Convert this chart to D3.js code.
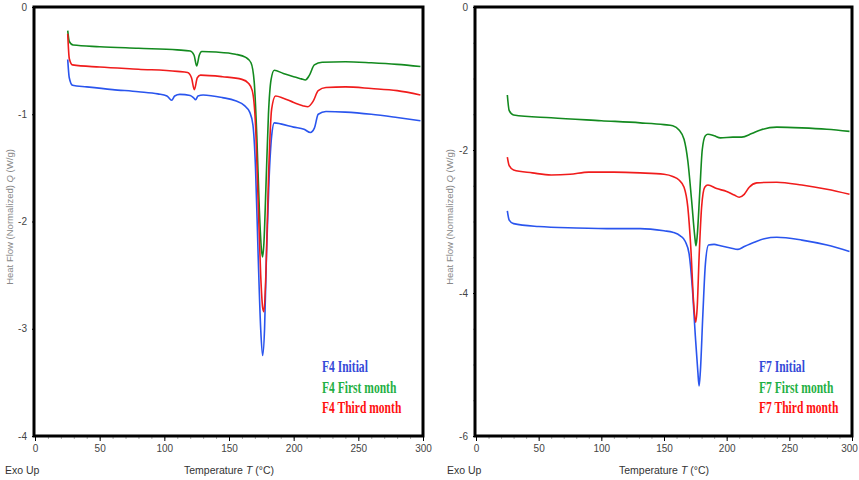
<!DOCTYPE html>
<html>
<head>
<meta charset="utf-8">
<script src="https://cdn.jsdelivr.net/npm/d3@7"></script>
<style>
  body { margin: 0; background: #fff; }
  svg { display: block; }
  .tick text { font-family: "Liberation Sans Narrow", "Liberation Sans", Arial, sans-serif; font-size: 10px; fill: #444; }
  .minor line { stroke: #aaa; }
</style>
</head>
<body>
<svg id="chart" width="859" height="480"></svg>
<script>
// temperature ticks shared by both panels
const tempTicks = [0, 50, 100, 150, 200, 250, 300];

// F4 panel, [temperature °C, heat flow W/g]
const f4Initial = [[25.3,-0.49],[26.5,-0.66],[29,-0.73],[40,-0.745],[60,-0.77],[80,-0.79],[95,-0.81],[102,-0.83],[105.7,-0.87],[108,-0.83],[112,-0.815],[120,-0.825],[122.5,-0.845],[124.2,-0.865],[126,-0.83],[130,-0.82],[145,-0.845],[155,-0.875],[162,-0.92],[166,-0.98],[168.5,-1.1],[170.5,-1.5],[172.5,-2.3],[174.5,-3.0],[176,-3.25],[177.5,-3.0],[179,-2.3],[181,-1.6],[183,-1.2],[185,-1.08],[190,-1.09],[200,-1.12],[208,-1.14],[213,-1.17],[216,-1.13],[219,-1.0],[225,-0.975],[240,-0.98],[260,-1.0],[280,-1.03],[298,-1.06]];
const f4First = [[25.3,-0.22],[26.5,-0.32],[29.5,-0.355],[50,-0.37],[80,-0.385],[110,-0.4],[120,-0.41],[123,-0.45],[125,-0.55],[127,-0.45],[129,-0.415],[140,-0.42],[155,-0.44],[163,-0.47],[167,-0.52],[169.5,-0.7],[171.5,-1.2],[173.5,-1.9],[175,-2.25],[176,-2.33],[177,-2.2],[178.5,-1.7],[180.5,-1.0],[182.5,-0.68],[185,-0.59],[192,-0.62],[200,-0.65],[206,-0.67],[209,-0.68],[212,-0.64],[216,-0.54],[222,-0.515],[240,-0.51],[260,-0.52],[280,-0.535],[298,-0.555]];
const f4Third = [[25.3,-0.25],[26.5,-0.48],[29,-0.54],[50,-0.56],[80,-0.58],[110,-0.6],[118,-0.61],[121,-0.66],[123.2,-0.77],[125.5,-0.66],[128,-0.635],[145,-0.65],[160,-0.675],[165,-0.71],[168,-0.78],[170.5,-1.1],[172.5,-1.8],[174.5,-2.5],[176,-2.8],[177,-2.84],[178.5,-2.5],[180.5,-1.6],[183,-0.95],[186,-0.83],[192,-0.85],[200,-0.89],[207,-0.92],[211,-0.93],[215,-0.88],[219,-0.78],[225,-0.75],[240,-0.745],[260,-0.76],[280,-0.78],[298,-0.82]];
const f4Ticks = [0, -1, -2, -3, -4];

// F7 panel
const f7Initial = [[25,-2.85],[26.5,-2.98],[30,-3.03],[50,-3.07],[80,-3.09],[110,-3.1],[131,-3.1],[150,-3.13],[157,-3.15],[163,-3.2],[167,-3.28],[170,-3.45],[172.5,-3.9],[175,-4.6],[177,-5.1],[178,-5.3],[179,-5.1],[181,-4.3],[183,-3.6],[185.5,-3.33],[190,-3.32],[195,-3.34],[203,-3.37],[209,-3.39],[214,-3.35],[222,-3.29],[230,-3.24],[240,-3.22],[260,-3.26],[280,-3.33],[298,-3.42]];
const f7First = [[25,-1.23],[26.5,-1.45],[30,-1.51],[60,-1.55],[100,-1.59],[131,-1.62],[150,-1.645],[157,-1.66],[162,-1.72],[166,-1.85],[169,-2.15],[172,-2.7],[174.5,-3.2],[175.5,-3.34],[176.5,-3.2],[178.5,-2.6],[180.5,-2.0],[183,-1.8],[185,-1.78],[190,-1.8],[195,-1.83],[205,-1.82],[212,-1.82],[220,-1.77],[227,-1.72],[240,-1.68],[260,-1.69],[280,-1.71],[298,-1.74]];
const f7Third = [[25,-2.1],[26.5,-2.22],[30,-2.28],[45,-2.32],[60,-2.35],[75,-2.34],[90,-2.31],[110,-2.31],[131,-2.32],[150,-2.34],[157,-2.37],[162,-2.42],[166,-2.52],[169,-2.8],[171.5,-3.4],[173.5,-4.1],[175.3,-4.41],[176.5,-4.2],[178,-3.5],[180,-2.8],[182.5,-2.52],[185,-2.49],[192,-2.54],[200,-2.58],[206,-2.63],[210,-2.66],[214,-2.62],[218,-2.52],[224,-2.46],[240,-2.45],[260,-2.49],[280,-2.55],[298,-2.62]];
const f7Ticks = [0, -2, -4, -6];

const lineColors = {initial: "#2a55ee", first: "#138a1f", third: "#f01c1c"};
const legendColors = {initial: "#3549d8", first: "#1fb044", third: "#ff1010"};

const svg = d3.select("#chart");

function drawPanel(p) {
    let x = d3.scaleLinear().domain([0, 300]).range([p.left, p.right]);
    let y = d3.scaleLinear().domain([0, p.yMin]).range([p.top, p.bottom]);
    let g = svg.append("g");

    // minor x ticks every 10
    g.append("g")
        .classed("minor", true)
        .attr("transform", "translate(0," + p.bottom + ")")
        .call(d3.axisBottom(x).tickValues(d3.range(0, 301, 10)).tickSize(3).tickFormat(""))
        .call(a => a.select(".domain").remove());
    let xAxisG = g.append("g")
        .attr("transform", "translate(0," + p.bottom + ")")
        .call(d3.axisBottom(x).tickValues(tempTicks).tickSize(5).tickPadding(4))
        .call(a => a.select(".domain").remove());
    // keep the last label inside the page
    if (p.lastLabelShift) {
        xAxisG.selectAll(".tick text").filter(d => d === 300).attr("dx", p.lastLabelShift);
    }

    if (p.yMinor) {
        g.append("g")
            .classed("minor", true)
            .attr("transform", "translate(" + p.left + ",0)")
            .call(d3.axisLeft(y).tickValues(p.yMinor).tickSize(3).tickFormat(""))
            .call(a => a.select(".domain").remove());
    }
    g.append("g")
        .attr("transform", "translate(" + p.left + ",0)")
        .call(d3.axisLeft(y).tickValues(p.yTicks).tickSize(3).tickPadding(5).tickFormat(d => String(d)))
        .call(a => a.select(".domain").remove());

    let line = d3.line()
        .x(d => x(d[0]))
        .y(d => y(d[1]))
        .curve(d3.curveMonotoneX);

    p.series.forEach(s => {
        g.append("path")
            .datum(s.data)
            .attr("fill", "none")
            .attr("stroke", lineColors[s.key])
            .attr("stroke-width", 1.6)
            .attr("stroke-linejoin", "round")
            .attr("d", line);
    });

    // frame
    g.append("rect")
        .attr("x", p.left - 1).attr("y", p.top)
        .attr("width", p.right - p.left + 1).attr("height", p.bottom - p.top)
        .attr("fill", "none").attr("stroke", "#000").attr("stroke-width", 3);

    // legend, squeezed horizontally like the original
    p.series.forEach((s, i) => {
        g.append("text")
            .attr("transform", "translate(" + p.legendX + "," + (372 + i * 20.5) + ") scale(0.66,1)")
            .attr("font-family", "Liberation Serif, Times New Roman, serif")
            .attr("font-weight", "bold")
            .attr("font-size", 17.5)
            .attr("fill", legendColors[s.key])
            .text(s.label);
    });

    // axis titles
    let xt = g.append("text")
        .attr("x", (p.left + p.right) / 2)
        .attr("y", 474)
        .attr("text-anchor", "middle")
        .attr("font-family", "Liberation Sans Narrow, Liberation Sans, Arial, sans-serif")
        .attr("font-size", 10.5)
        .attr("fill", "#333");
    xt.append("tspan").text("Temperature ");
    xt.append("tspan").attr("font-style", "italic").text("T");
    xt.append("tspan").text(" (°C)");

    g.append("text")
        .attr("x", p.exoX)
        .attr("y", 474)
        .attr("font-family", "Liberation Sans Narrow, Liberation Sans, Arial, sans-serif")
        .attr("font-size", 10.5)
        .attr("fill", "#333")
        .text("Exo Up");

    let yt = g.append("text")
        .attr("transform", "translate(" + p.yLabelX + ",217) rotate(-90)")
        .attr("text-anchor", "middle")
        .attr("font-family", "Liberation Sans, Arial, sans-serif")
        .attr("font-size", 9.5)
        .attr("fill", "#888");
    yt.append("tspan").text("Heat Flow (Normalized) ");
    yt.append("tspan").attr("font-style", "italic").text("Q");
    yt.append("tspan").text(" (W/g)");
}

drawPanel({
    left: 35, right: 423, top: 7, bottom: 436, yMin: -4,
    yTicks: f4Ticks, yMinor: null,
    legendX: 322, exoX: 5, yLabelX: 13,
    series: [
        {key: "initial", label: "F4 Initial", data: f4Initial},
        {key: "first", label: "F4 First month", data: f4First},
        {key: "third", label: "F4 Third month", data: f4Third}
    ]
});

drawPanel({
    left: 476, right: 852, top: 7, bottom: 436, yMin: -6,
    yTicks: f7Ticks, yMinor: d3.range(0, -6.01, -0.5),
    legendX: 759, exoX: 447, yLabelX: 453, lastLabelShift: -3,
    series: [
        {key: "initial", label: "F7 Initial", data: f7Initial},
        {key: "first", label: "F7 First month", data: f7First},
        {key: "third", label: "F7 Third month", data: f7Third}
    ]
});
</script>
</body>
</html>
